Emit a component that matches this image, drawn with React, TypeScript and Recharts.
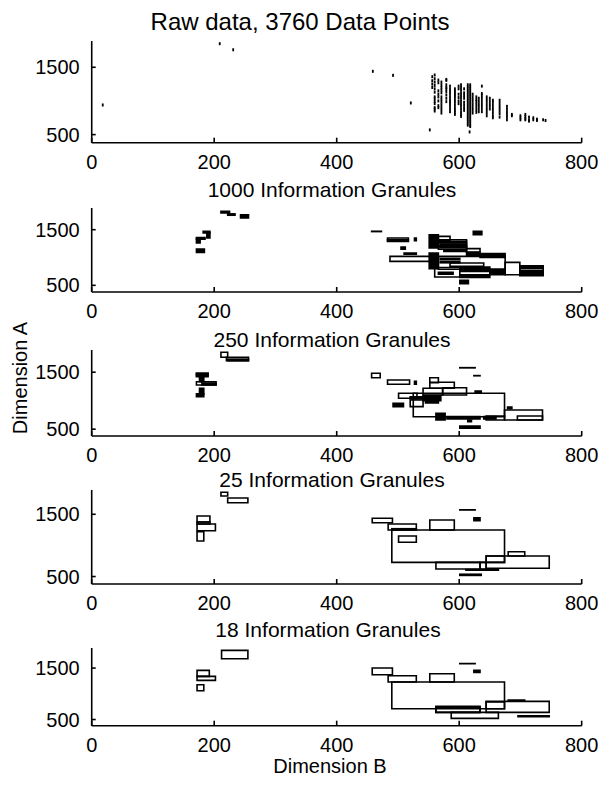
import React from 'react';
import { ScatterChart, Scatter, XAxis, YAxis, ReferenceArea } from 'recharts';

type Box = [number, number, number, number]; // [x1, x2, y1, y2]

const X_TICKS = [0, 200, 400, 600, 800];
const Y_TICKS = [500, 1500];
const X_DOMAIN: [number, number] = [0, 800];
const Y_DOMAIN: [number, number] = [380, 1890];

const TITLES = [
  'Raw data, 3760 Data Points',
  '1000 Information Granules',
  '250 Information Granules',
  '25 Information Granules',
  '18 Information Granules',
];
const X_LABEL = 'Dimension B';
const Y_LABEL = 'Dimension A';

// Raw data: isolated points
const rawSingles: [number, number][] = [
  [18, 940], [209, 1850], [231, 1760], [459, 1440], [492, 1380], [521, 970], [552, 570], [617, 540],
];
// Raw data: dense vertical columns [x, y-values]
const rawColumns: [number, number[]][] = [
  [556, [1360, 1300, 1250, 1200]],
  [560, [1385, 1330, 1280, 1230, 1180, 1130, 1060, 1030, 990, 960, 900, 880, 850]],
  [566, [1310, 1270, 1150, 1100, 1060, 1000, 930, 900]],
  [571, [1280, 1240, 1200, 1160, 1120, 1060, 1020, 980, 940, 900, 860, 820]],
  [579, [1320, 1305, 1240, 1200, 1180, 1140, 1090, 1040, 990]],
  [585, [1220, 1180, 1140, 1100, 1060, 1020, 990, 960, 920, 880, 840]],
  [593, [1180, 1150, 1120, 1090, 1060, 1020, 980, 940, 900, 860, 830, 800]],
  [599, [1220, 1180, 1100, 1050, 1000, 960]],
  [603, [1240, 1200, 1160, 1120, 1080, 1040, 1000, 960, 920, 880, 840, 800, 770]],
  [608, [1180, 1120, 1080, 1040, 980, 940, 900, 860]],
  [614, [1240, 1210, 1180, 1150, 1120, 1090, 1060, 1030, 1000, 970, 940, 910, 880, 850, 820, 790, 760, 730, 700, 670, 640]],
  [618, [1240, 1210, 1180, 1150, 1120, 1090, 1060, 1030, 1000, 970, 940, 910, 880, 850, 820, 790, 760, 730, 700, 670, 640, 620]],
  [622, [1100, 1060, 1020, 980, 940, 900, 860, 820]],
  [628, [1060, 1020, 990, 950, 910, 870, 830]],
  [632, [1040, 1000, 960, 920, 880, 840]],
  [637, [1220, 1110, 1080, 1040, 1000, 960, 920, 880, 840]],
  [645, [1060, 1020, 980, 940, 900, 860, 820, 780]],
  [650, [1040, 1000, 960, 920, 880]],
  [655, [1010, 980, 940, 900, 860, 820, 780, 750]],
  [666, [1010, 970, 930, 890, 850, 810, 760]],
  [678, [920, 880, 840, 800, 760, 720]],
  [686, [800, 780]],
  [700, [780, 750, 720]],
  [708, [800, 770, 740, 720]],
  [714, [760, 720, 700]],
  [721, [750, 720]],
  [727, [730, 710]],
  [737, [720]],
  [741, [710]],
];

// 1000 granules
const g1000Boxes: Box[] = [
  [457, 473, 1466, 1472], [483, 517, 1290, 1351], [487, 552, 930, 1020], [566, 585, 1300, 1380],
  [566, 612, 1150, 1320], [566, 675, 790, 1020], [560, 601, 650, 820], [675, 699, 691, 912],
  [612, 634, 1100, 1160], [569, 612, 1180, 1240], [585, 640, 840, 900], [699, 737, 673, 853],
];
const g1000Solid: Box[] = [
  [211, 225, 1800, 1829], [222, 234, 1760, 1785], [243, 256, 1710, 1770], [182, 193, 1440, 1469],
  [188, 193, 1351, 1440], [171, 185, 1330, 1361], [171, 177, 1261, 1330], [171, 184, 1092, 1153],
  [483, 517, 1300, 1320], [527, 530, 1300, 1350], [623, 637, 1410, 1469], [551, 566, 1171, 1410],
  [551, 566, 800, 1080], [566, 612, 1260, 1290], [566, 612, 1190, 1215], [575, 612, 1110, 1140],
  [612, 634, 1030, 1090], [634, 675, 1000, 1070], [505, 512, 1150, 1190], [510, 530, 1060, 1080],
  [569, 601, 960, 985], [569, 601, 905, 925], [601, 650, 640, 690], [601, 650, 750, 830],
  [650, 675, 690, 790], [699, 737, 680, 760], [699, 737, 800, 845], [601, 615, 529, 589],
  [566, 590, 700, 735],
];

// 250 granules
const g250Boxes: Box[] = [
  [211, 222, 1762, 1850], [220, 256, 1702, 1762], [171, 190, 1421, 1481], [171, 203, 1276, 1333],
  [457, 471, 1404, 1481], [483, 519, 1288, 1363], [552, 566, 1316, 1404], [552, 592, 1218, 1323],
  [573, 612, 1100, 1228], [541, 573, 1100, 1218], [525, 674, 719, 1130], [501, 531, 1042, 1130],
  [520, 541, 895, 1012], [644, 674, 661, 731], [674, 736, 661, 836], [695, 736, 661, 731],
  [601, 626, 1576, 1580], [624, 634, 1437, 1441],
];
const g250Solid: Box[] = [
  [222, 256, 1702, 1730], [171, 190, 1440, 1481], [176, 183, 1333, 1421], [180, 203, 1276, 1310],
  [171, 183, 1070, 1120], [176, 183, 1120, 1218], [492, 509, 895, 954], [541, 570, 1000, 1090],
  [520, 545, 1030, 1070], [545, 566, 960, 1050], [562, 577, 661, 778], [580, 634, 680, 720],
  [614, 620, 630, 660], [640, 660, 680, 720], [601, 634, 515, 556], [626, 636, 1140, 1170],
  [679, 686, 860, 890], [527, 530, 1290, 1340],
];

// 25 granules
const g25Boxes: Box[] = [
  [211, 222, 1794, 1853], [222, 255, 1686, 1762], [172, 193, 1376, 1472], [172, 202, 1236, 1344],
  [172, 193, 1344, 1376], [172, 183, 1071, 1220], [458, 491, 1365, 1435], [484, 530, 1247, 1344],
  [490, 530, 1250, 1268], [552, 592, 1247, 1408], [490, 674, 728, 1247], [501, 530, 1050, 1151],
  [562, 634, 621, 728], [634, 644, 621, 728], [644, 747, 632, 830], [644, 674, 728, 830],
  [680, 707, 830, 899], [601, 626, 1569, 1572],
];
const g25Solid: Box[] = [
  [624, 634, 1397, 1445], [611, 664, 600, 612], [601, 636, 518, 537],
];

// 18 granules
const g18Boxes: Box[] = [
  [212, 255, 1682, 1843], [172, 192, 1338, 1455], [172, 202, 1260, 1338], [172, 183, 1060, 1177],
  [458, 491, 1371, 1501], [484, 530, 1229, 1352], [552, 592, 1229, 1390], [490, 674, 710, 1229],
  [562, 634, 638, 755], [562, 634, 638, 740], [587, 664, 522, 638], [644, 674, 710, 840],
  [644, 747, 638, 852], [696, 747, 555, 572], [601, 626, 1585, 1588],
];
const g18Solid: Box[] = [
  [624, 634, 1416, 1455], [680, 707, 862, 880],
];

const FONT = "'Liberation Sans', Arial, Helvetica, sans-serif";
const PLOT_LEFT = 91.7;
const PLOT_RIGHT = 581.7;
const W = 598;

const PANELS = [
  { top: 41, bottom: 142.7, titleY: 30, titleX: 300, titleSize: 24 },
  { top: 208.3, bottom: 292.3, titleY: 197, titleX: 332, titleSize: 21 },
  { top: 350, bottom: 436, titleY: 347, titleX: 332, titleSize: 21 },
  { top: 490, bottom: 584, titleY: 487, titleX: 332, titleSize: 21 },
  { top: 648.3, bottom: 726, titleY: 637, titleX: 328, titleSize: 21 },
];

const XTick = (props: any) => {
  const { x, y, payload } = props;
  return (
    <g>
      <line x1={x} x2={x} y1={y} y2={y - 5} stroke="#000" strokeWidth={1.6} />
      <text x={x} y={y + 26} textAnchor="middle" fontSize={20} fontFamily={FONT} fill="#000">
        {payload.value}
      </text>
    </g>
  );
};

const YTick = (props: any) => {
  const { x, y, payload } = props;
  return (
    <g>
      <line x1={x} x2={x + 4} y1={y} y2={y} stroke="#000" strokeWidth={1.6} />
      <text x={x - 12} y={y + 7} textAnchor="end" fontSize={20} fontFamily={FONT} fill="#000">
        {payload.value}
      </text>
    </g>
  );
};

const Dot = (props: any) => (
  <rect x={props.cx - 0.9} y={props.cy - 1.5} width={1.8} height={3} fill="#000" />
);

function Panel({ top, bottom, boxes, solids, points }: { top: number; bottom: number; boxes: Box[]; solids: Box[]; points: { x: number; y: number }[] }) {
  const mTop = 5;
  const xH = 40;
  const H = mTop + (bottom - top) + xH;
  return (
    <div style={{ position: 'absolute', left: 0, top: top - mTop }}>
      <ScatterChart width={W} height={H} margin={{ top: mTop, right: W - PLOT_RIGHT, bottom: 0, left: 0 }}>
        <XAxis
          type="number"
          dataKey="x"
          domain={X_DOMAIN}
          ticks={X_TICKS}
          interval={0}
          height={xH}
          tickSize={0}
          tickMargin={0}
          tickLine={false}
          tick={<XTick />}
          axisLine={{ stroke: '#000', strokeWidth: 1.6 }}
          allowDataOverflow
        />
        <YAxis
          type="number"
          dataKey="y"
          domain={Y_DOMAIN}
          ticks={Y_TICKS}
          interval={0}
          width={PLOT_LEFT}
          tickSize={0}
          tickMargin={0}
          tickLine={false}
          tick={<YTick />}
          axisLine={{ stroke: '#000', strokeWidth: 1.6 }}
          allowDataOverflow
        />
        {boxes.map((b, i) => (
          <ReferenceArea key={'b' + i} x1={b[0]} x2={b[1]} y1={b[2]} y2={b[3]} fill="none" fillOpacity={0} stroke="#000" strokeWidth={1.6} ifOverflow="visible" />
        ))}
        {solids.map((b, i) => (
          <ReferenceArea key={'s' + i} x1={b[0]} x2={b[1]} y1={b[2]} y2={b[3]} fill="#000" fillOpacity={1} stroke="#000" strokeWidth={1.6} ifOverflow="visible" />
        ))}
        <Scatter data={points} shape={<Dot />} isAnimationActive={false} />
      </ScatterChart>
    </div>
  );
}

export default function App() {
  const rawPoints: { x: number; y: number }[] = [
    ...rawSingles.map(([x, y]) => ({ x, y })),
    ...rawColumns.flatMap(([x, ys]) => ys.map((y) => ({ x, y }))),
  ];
  const panelData = [
    { boxes: [] as Box[], solids: [] as Box[], points: rawPoints },
    { boxes: g1000Boxes, solids: g1000Solid, points: [] },
    { boxes: g250Boxes, solids: g250Solid, points: [] },
    { boxes: g25Boxes, solids: g25Solid, points: [] },
    { boxes: g18Boxes, solids: g18Solid, points: [] },
  ];
  return (
    <div style={{ position: 'absolute', left: 0, top: 0, width: W, height: 787, background: '#fff' }}>
      {PANELS.map((p, i) => (
        <Panel key={i} top={p.top} bottom={p.bottom} boxes={panelData[i].boxes} solids={panelData[i].solids} points={panelData[i].points} />
      ))}
      <svg width={W} height={787} style={{ position: 'absolute', left: 0, top: 0, pointerEvents: 'none' }}>
        {PANELS.map((p, i) => (
          <text key={i} x={p.titleX} y={p.titleY} textAnchor="middle" fontSize={p.titleSize} fontFamily={FONT} fill="#000">
            {TITLES[i]}
          </text>
        ))}
        <text x={330} y={773} textAnchor="middle" fontSize={20} fontFamily={FONT} fill="#000">{X_LABEL}</text>
        <text transform="translate(27,378) rotate(-90)" textAnchor="middle" fontSize={20} fontFamily={FONT} fill="#000">{Y_LABEL}</text>
      </svg>
    </div>
  );
}
